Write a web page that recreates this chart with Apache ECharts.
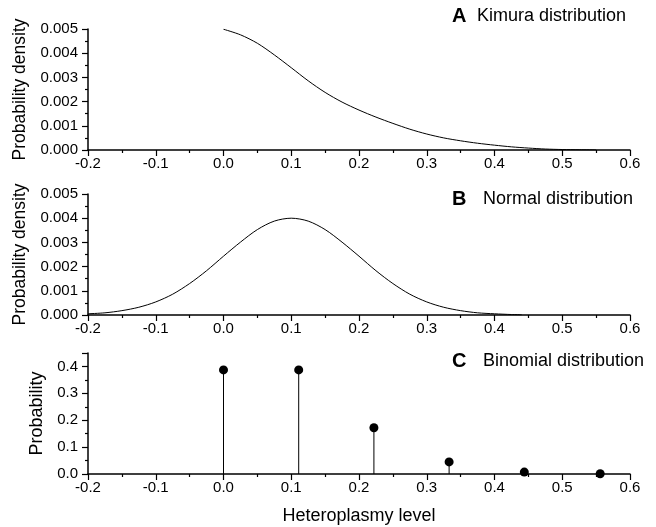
<!DOCTYPE html>
<html>
<head>
<meta charset="utf-8">
<script src="https://cdn.jsdelivr.net/npm/echarts@6/dist/echarts.min.js"></script>
<style>html,body{margin:0;padding:0;background:#fff}#c{width:656px;height:527px}</style>
</head>
<body>
<div id="c"></div>
<script>
// Panel A: Kimura distribution
var kimuraX = [0, 0.025, 0.05, 0.075, 0.1, 0.125, 0.15, 0.175, 0.2, 0.225, 0.25, 0.275, 0.3, 0.325, 0.35, 0.375, 0.4, 0.425, 0.45, 0.475, 0.5, 0.525, 0.55];
var kimuraY = [0.00499, 0.00476, 0.00441, 0.00393, 0.0034, 0.00286, 0.00238, 0.00198, 0.00165, 0.00136, 0.0011, 0.00086, 0.00066, 0.0005, 0.00038, 0.00028, 0.0002, 0.00013, 0.00008, 0.00004, 0.00002, 0.00001, 0.000003];
// Panel B: Normal distribution
var normalX = [-0.2, -0.175, -0.15, -0.125, -0.1, -0.075, -0.05, -0.025, 0, 0.025, 0.05, 0.075, 0.1, 0.125, 0.15, 0.175, 0.2, 0.225, 0.25, 0.275, 0.3, 0.325, 0.35, 0.375, 0.4, 0.425, 0.44];
var normalY = [0.00005, 0.00009, 0.00018, 0.00032, 0.00054, 0.00086, 0.0013, 0.00183, 0.00243, 0.00301, 0.00353, 0.00388, 0.004, 0.00388, 0.00353, 0.00301, 0.00243, 0.00183, 0.0013, 0.00086, 0.00054, 0.00032, 0.00018, 0.00009, 0.00005, 0.00002, 0.00001];
// Panel C: Binomial distribution
var binomX = [0, 0.111, 0.222, 0.333, 0.444, 0.556];
var binomY = [0.387, 0.387, 0.172, 0.045, 0.007, 0.0008];
// Tick labels / titles
var xTicks = {min: -0.2, max: 0.6, interval: 0.1};
var panelLetters = ['A', 'B', 'C'];
var panelNames = ['Kimura distribution', 'Normal distribution', 'Binomial distribution'];
var yNames = ['Probability density', 'Probability density', 'Probability'];
var xName = 'Heteroplasmy level';

var FONT = 'Liberation Sans, Arial, sans-serif';
function zip(a, b) { return a.map(function (v, i) { return [v, b[i]]; }); }

var grids = [
  {left: 88, right: 26, top: 29, height: 121},
  {left: 88, right: 26, top: 194, height: 121},
  {left: 88, right: 26, top: 353, height: 121}
];

function xAxis(i) {
  return {
    type: 'value', gridIndex: i, min: xTicks.min, max: xTicks.max, interval: xTicks.interval,
    axisLine: {show: true, onZero: false, lineStyle: {color: '#000', width: 1.5}},
    axisTick: {show: true, length: 6, lineStyle: {color: '#000', width: 1.2}},
    minorTick: {show: true, splitNumber: 2, length: 3, lineStyle: {color: '#000', width: 1.2}},
    splitLine: {show: false},
    axisLabel: {color: '#000', fontFamily: FONT, fontSize: 15, margin: 6,
      formatter: function (v) { return v.toFixed(1); }},
    name: i === 2 ? xName : '', nameLocation: 'middle', nameGap: 33,
    nameTextStyle: {color: '#000', fontFamily: FONT, fontSize: 18}
  };
}
function yAxis(i, max, interval, dec, nameGap) {
  return {
    type: 'value', gridIndex: i, min: 0, max: max, interval: interval,
    axisLine: {show: true, onZero: false, lineStyle: {color: '#000', width: 1.5}},
    axisTick: {show: true, length: 6, lineStyle: {color: '#000', width: 1.2}},
    minorTick: {show: true, splitNumber: 2, length: 3, lineStyle: {color: '#000', width: 1.2}},
    splitLine: {show: false},
    axisLabel: {color: '#000', fontFamily: FONT, fontSize: 15, margin: 10, showMaxLabel: i !== 2,
      formatter: function (v) { return v.toFixed(dec); }},
    name: yNames[i], nameLocation: 'middle', nameGap: nameGap,
    nameTextStyle: {color: '#000', fontFamily: FONT, fontSize: i === 2 ? 18 : 17.5}
  };
}

var titleTops = [6, 189, 351];
var titles = titleTops.map(function (t, i) {
  return {
    text: '{l|' + panelLetters[i] + '}{n|' + panelNames[i] + '}',
    left: 452, top: t, padding: 0,
    textStyle: {rich: {
      l: {fontFamily: FONT, fontSize: 20, fontWeight: 'bold', color: '#000', width: i === 0 ? 25 : 31},
      n: {fontFamily: FONT, fontSize: 18, fontWeight: 'normal', color: '#000'}
    }}
  };
});

var option = {
  animation: false,
  backgroundColor: '#fff',
  title: titles,
  grid: grids,
  xAxis: [xAxis(0), xAxis(1), xAxis(2)],
  yAxis: [yAxis(0, 0.005, 0.001, 3, 58), yAxis(1, 0.005, 0.001, 3, 58), yAxis(2, 0.45, 0.1, 1, 42)],
  series: [
    {type: 'line', xAxisIndex: 0, yAxisIndex: 0, data: zip(kimuraX, kimuraY), smooth: 0.3,
      showSymbol: false, lineStyle: {color: '#000', width: 1}},
    {type: 'line', xAxisIndex: 1, yAxisIndex: 1, data: zip(normalX, normalY), smooth: 0.3,
      showSymbol: false, lineStyle: {color: '#000', width: 1}},
    {type: 'bar', xAxisIndex: 2, yAxisIndex: 2, data: zip(binomX, binomY), barWidth: 1,
      itemStyle: {color: '#000'}},
    {type: 'scatter', xAxisIndex: 2, yAxisIndex: 2, data: zip(binomX, binomY), symbol: 'circle',
      symbolSize: 9, itemStyle: {color: '#000', opacity: 1}}
  ]
};
var chart = echarts.init(document.getElementById('c'), null, {renderer: 'canvas'});
chart.setOption(option);
</script>
</body>
</html>
